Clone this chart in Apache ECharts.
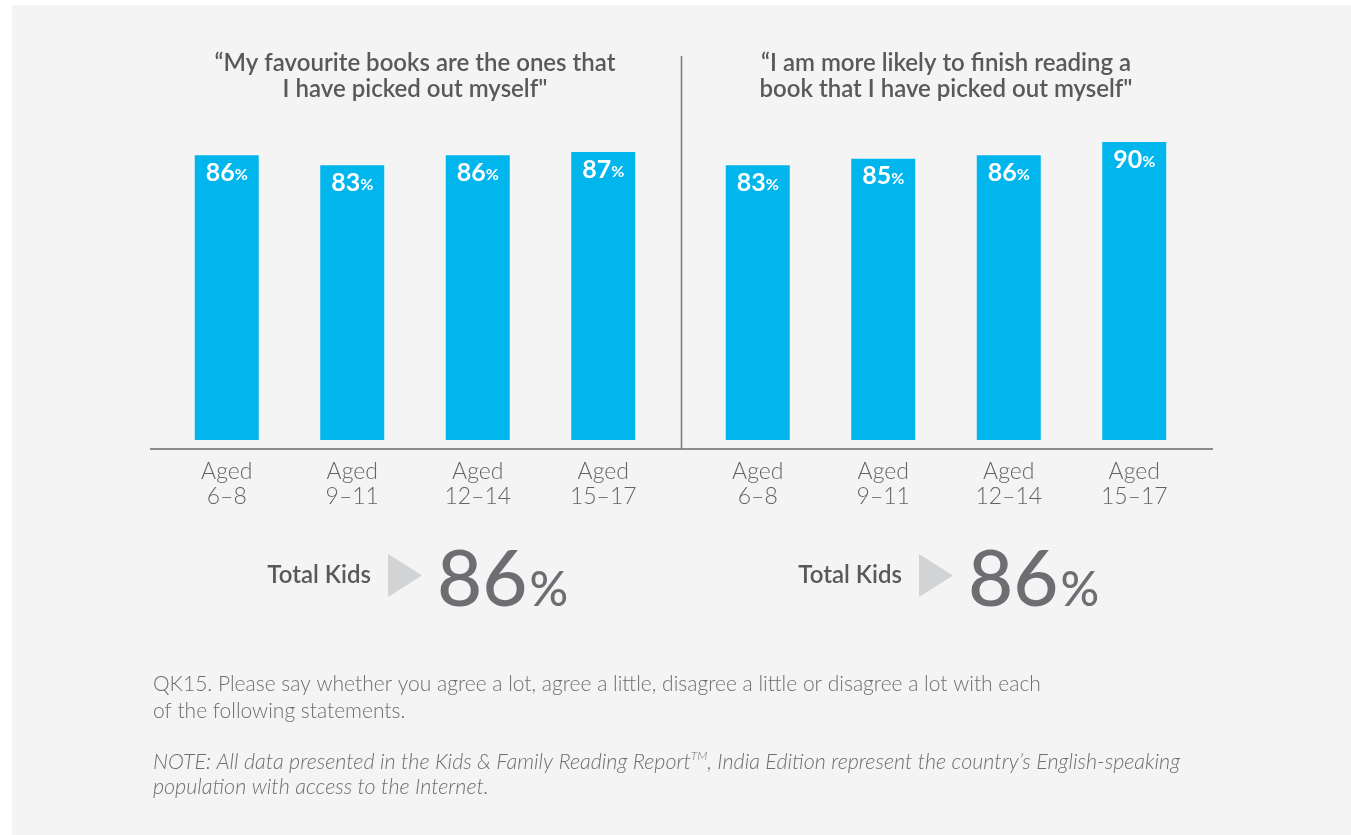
<!DOCTYPE html>
<html>
<head>
<meta charset="utf-8">
<script src="https://cdn.jsdelivr.net/npm/echarts@6/dist/echarts.min.js"></script>
<style>
  html, body { margin: 0; padding: 0; background: #fff; }
  #chart { width: 1351px; height: 835px; }
</style>
</head>
<body>
<div id="chart"></div>
<script>
// data
const ageGroups = ['Aged\n6–8', 'Aged\n9–11', 'Aged\n12–14', 'Aged\n15–17']
const favouriteBooks = [86, 83, 86, 87]
const finishReading = [83, 85, 86, 90]
const totalKids = [86, 86]
const panelTitles = [
  '“My favourite books are the ones that\nI have picked out myself"',
  '“I am more likely to finish reading a\nbook that I have picked out myself"'
]

const FONT = 'Lato, "Noto Sans", sans-serif'
const BAR = '#00b6ed'
const DARK = '#58595b'
const MID = '#6d6e71'

const chart = echarts.init(document.getElementById('chart'))

const barLabel = {
  show: true,
  position: 'insideTop',
  distance: 5,
  formatter: p => '{n|' + p.value + '}{p|%}',
  rich: {
    n: { color: '#fff', fontFamily: FONT, fontWeight: 'bold', fontSize: 25 },
    p: { color: '#fff', fontFamily: FONT, fontWeight: 'bold', fontSize: 16, padding: [5, 0, 0, 0] }
  }
}

const makeXAxis = gridIndex => ({
  type: 'category',
  gridIndex,
  data: ageGroups,
  axisLine: { show: false },
  axisTick: { show: false },
  axisLabel: {
    color: '#636466',
    fontFamily: FONT,
    fontWeight: 300,
    fontSize: 23,
    lineHeight: 25,
    margin: 19
  }
})

const makeYAxis = gridIndex => ({
  type: 'value',
  gridIndex,
  min: 0,
  max: 100,
  show: false
})

// big "Total Kids  ▶ 86%" blocks
const totalBlock = (labelRight, triLeft, numLeft, value) => [
  {
    type: 'text', x: labelRight, y: 575,
    style: {
      text: 'Total Kids', fill: DARK, font: '600 24px ' + FONT,
      textAlign: 'right', textVerticalAlign: 'middle'
    }
  },
  {
    type: 'polygon',
    shape: { points: [[triLeft, 554], [triLeft, 597], [triLeft + 34, 575.5]] },
    style: { fill: '#d1d3d4' }
  },
  {
    type: 'text', x: numLeft, y: 620,
    style: {
      text: '{big|' + value + '}{pct|%}',
      textAlign: 'left', textVerticalAlign: 'bottom',
      rich: {
        big: { fill: MID, fontFamily: FONT, fontSize: 78, fontWeight: 500, verticalAlign: 'bottom' },
        pct: { fill: MID, fontFamily: FONT, fontSize: 48, fontWeight: 500, verticalAlign: 'bottom', padding: [0, 0, 5, 2] }
      }
    }
  }
]

const option = {
  backgroundColor: '#fff',
  animation: false,
  grid: [
    { left: 164, width: 502, top: 109, height: 331 },
    { left: 695, width: 502, top: 109, height: 331 }
  ],
  xAxis: [makeXAxis(0), makeXAxis(1)],
  yAxis: [makeYAxis(0), makeYAxis(1)],
  series: [
    {
      type: 'bar', xAxisIndex: 0, yAxisIndex: 0,
      data: favouriteBooks, barWidth: 64,
      itemStyle: { color: BAR }, label: barLabel
    },
    {
      type: 'bar', xAxisIndex: 1, yAxisIndex: 1,
      data: finishReading, barWidth: 64,
      itemStyle: { color: BAR }, label: barLabel
    }
  ],
  graphic: [
    // grey panel
    { type: 'rect', z: -10, silent: true, shape: { x: 12, y: 5, width: 1339, height: 830 }, style: { fill: '#f4f4f4' } },
    // baseline + divider
    { type: 'line', shape: { x1: 150, y1: 449, x2: 1213, y2: 449 }, style: { stroke: '#8c8c8c', lineWidth: 2 } },
    { type: 'line', shape: { x1: 681.5, y1: 56, x2: 681.5, y2: 449 }, style: { stroke: '#77787b', lineWidth: 1.5 } },
    // panel titles
    {
      type: 'text', x: 415, y: 50,
      style: { text: panelTitles[0], fill: DARK, font: '600 24px ' + FONT, lineHeight: 26, textAlign: 'center', textVerticalAlign: 'top' }
    },
    {
      type: 'text', x: 946, y: 50,
      style: { text: panelTitles[1], fill: DARK, font: '600 24px ' + FONT, lineHeight: 26, textAlign: 'center', textVerticalAlign: 'top' }
    },
    ...totalBlock(371, 388, 437, totalKids[0]),
    ...totalBlock(902, 919, 968, totalKids[1]),
    // footnotes
    {
      type: 'text', x: 153, y: 671,
      style: {
        text: 'QK15. Please say whether you agree a lot, agree a little, disagree a little or disagree a lot with each\nof the following statements.',
        fill: MID, font: '300 21px ' + FONT, lineHeight: 27, textAlign: 'left', textVerticalAlign: 'top'
      }
    },
    {
      type: 'text', x: 153, y: 750,
      style: {
        text: '{n|NOTE: All data presented in the Kids & Family Reading Report}{s|TM}{n|, India Edition represent the country’s English-speaking}\n{n|population with access to the Internet.}',
        textAlign: 'left', textVerticalAlign: 'top',
        rich: {
          n: { fill: MID, fontFamily: FONT, fontStyle: 'italic', fontWeight: 300, fontSize: 21.5, lineHeight: 25 },
          s: { fill: MID, fontFamily: FONT, fontStyle: 'italic', fontWeight: 300, fontSize: 12, lineHeight: 25, verticalAlign: 'top' }
        }
      }
    }
  ]
}

chart.setOption(option)
window.addEventListener('resize', () => chart.resize())
</script>
</body>
</html>
